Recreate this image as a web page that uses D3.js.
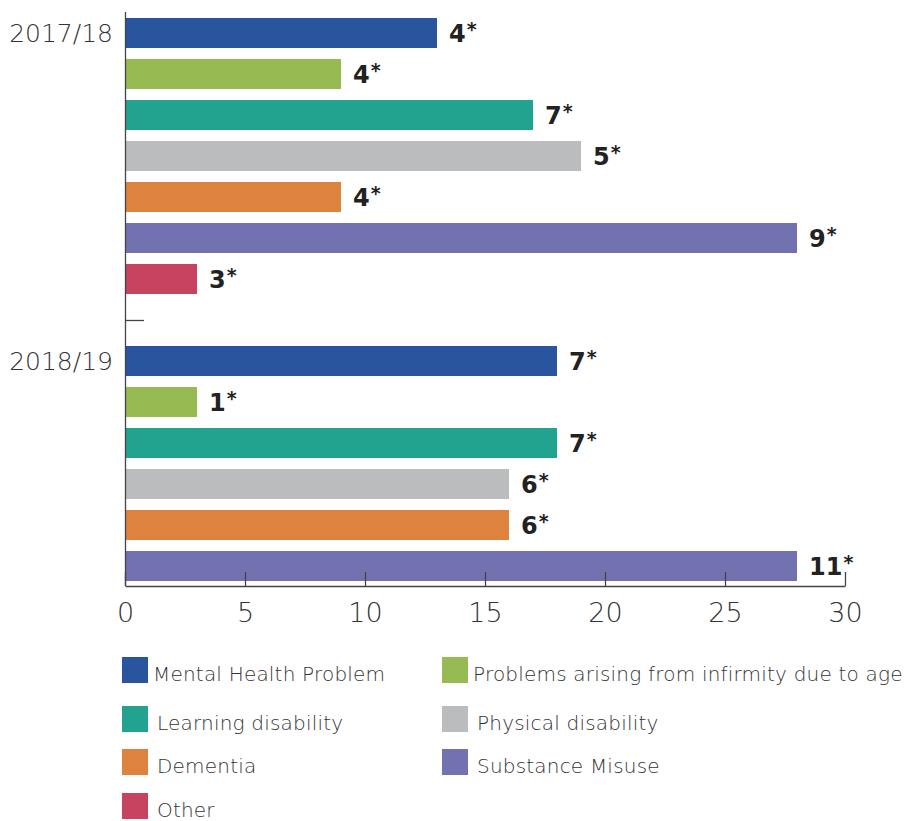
<!DOCTYPE html>
<html>
<head>
<meta charset="utf-8">
<script src="https://cdn.jsdelivr.net/npm/d3@7"></script>
<style>
  body { margin: 0; background: #fff; }
  text { font-family: "DejaVu Sans", sans-serif; }
</style>
</head>
<body>
<svg width="907" height="821"></svg>
<script>
// Data
var years = ["2017/18", "2018/19"];
var categories = ["Mental Health Problem", "Problems arising from infirmity due to age",
  "Learning disability", "Physical disability", "Dementia", "Substance Misuse", "Other"];
var colors = ["#29559f", "#97bb52", "#22a38f", "#bbbcbe", "#dd833e", "#7272b0", "#c8435f"];
// bar lengths (as drawn against the axis)
var values1718 = [13, 9, 17, 19, 9, 28, 3];
var values1819 = [18, 3, 18, 16, 16, 28, null];
// printed labels
var labels1718 = ["4", "4", "7", "5", "4", "9", "3"];
var labels1819 = ["7", "1", "7", "6", "6", "11", null];
var xTicks = [0, 5, 10, 15, 20, 25, 30];

var svg = d3.select("svg");

// build rows: one slot per bar, a blank slot between the two years
var rows = [];
categories.forEach(function (c, i) {
  rows.push({ key: "a" + i, year: years[0], cat: i, value: values1718[i], label: labels1718[i] });
});
rows.push({ key: "gap", value: null });
categories.forEach(function (c, i) {
  if (values1819[i] != null)
    rows.push({ key: "b" + i, year: years[1], cat: i, value: values1819[i], label: labels1819[i] });
});

var x = d3.scaleLinear().domain([0, 30]).range([125, 845]);
var y = d3.scaleBand()
  .domain(rows.map(function (d) { return d.key; }))
  .range([12.5, 586.5])
  .paddingInner(0.268)
  .paddingOuter(0.134);

var bars = rows.filter(function (d) { return d.value != null; });

// bars
svg.append("g").selectAll("rect")
  .data(bars).enter().append("rect")
  .attr("x", x(0))
  .attr("y", function (d) { return y(d.key); })
  .attr("width", function (d) { return x(d.value) - x(0); })
  .attr("height", y.bandwidth())
  .attr("fill", function (d) { return colors[d.cat]; });

// value labels
var lab = svg.append("g").selectAll("text")
  .data(bars).enter().append("text")
  .attr("x", function (d) { return x(d.value) + 12; })
  .attr("y", function (d) { return y(d.key) + y.bandwidth() / 2 + 8.5; })
  .attr("font-size", 24)
  .attr("font-weight", "bold")
  .attr("fill", "#222");
lab.append("tspan").text(function (d) { return d.label; });
lab.append("tspan").attr("font-size", 19).attr("dy", -6).attr("dx", 1).text("*");

// y axis line + separator tick
svg.append("line")
  .attr("x1", 125.5).attr("x2", 125.5)
  .attr("y1", 12).attr("y2", 586)
  .attr("stroke", "#444").attr("stroke-width", 1.3);
svg.append("line")
  .attr("x1", 125).attr("x2", 144)
  .attr("y1", y("gap") + y.bandwidth() / 2 + 0.5)
  .attr("y2", y("gap") + y.bandwidth() / 2 + 0.5)
  .attr("stroke", "#444").attr("stroke-width", 1.3);

// year labels
svg.append("g").selectAll("text")
  .data(years).enter().append("text")
  .attr("x", 113)
  .attr("y", function (d, i) { return y(i == 0 ? "a0" : "b0") + y.bandwidth() / 2 + 9; })
  .attr("text-anchor", "end")
  .attr("font-size", 25)
  .attr("font-weight", 200)
  .attr("fill", "#333")
  .text(function (d) { return d; });

// x axis (ticks pointing up)
var xAxis = svg.append("g")
  .attr("transform", "translate(0,586)")
  .call(d3.axisBottom(x).tickValues(xTicks).tickSizeInner(-14).tickSizeOuter(0).tickPadding(17));
xAxis.select(".domain").attr("stroke", "#444").attr("stroke-width", 1.3);
xAxis.selectAll(".tick line").attr("stroke", "#444").attr("stroke-width", 1.3);
xAxis.selectAll(".tick text")
  .attr("font-size", 27)
  .attr("font-weight", 200)
  .attr("fill", "#333")
  .attr("font-family", "DejaVu Sans, sans-serif");

// legend
var legendRows = [657, 706, 749, 793];
var legendCols = [122, 442];
var legend = svg.append("g").selectAll("g")
  .data(categories).enter().append("g")
  .attr("transform", function (d, i) {
    return "translate(" + legendCols[i % 2] + "," + legendRows[Math.floor(i / 2)] + ")";
  });
legend.append("rect")
  .attr("width", 26).attr("height", 26)
  .attr("fill", function (d, i) { return colors[i]; });
legend.append("text")
  .attr("x", function (d, i) { return i < 2 ? 31 : 35; })
  .attr("y", 24)
  .attr("font-size", 20)
  .attr("letter-spacing", 0.2)
  .attr("font-weight", 200)
  .attr("fill", "#333")
  .text(function (d) { return d; });
</script>
</body>
</html>
